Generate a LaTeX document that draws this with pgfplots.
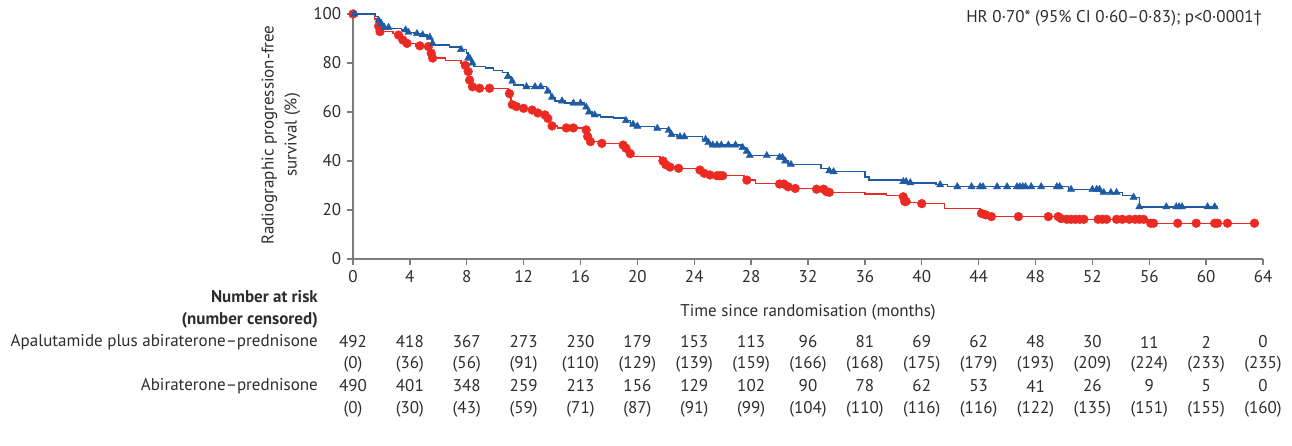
\documentclass[border=0pt]{standalone}
\usepackage{fontspec}
\setmainfont{PT Sans}
\usepackage{pgfplots}
\pgfplotsset{compat=1.18}
\definecolor{kmblue}{RGB}{31,91,165}
\definecolor{kmred}{RGB}{236,42,36}
\definecolor{axgray}{RGB}{125,125,125}
\definecolor{txt}{RGB}{45,45,45}
\newcommand\fs{\fontsize{17}{21}\selectfont}

\pgfplotstableread{
t S
0 100
1.6 99
1.8 97.5
2.0 96
2.2 94.5
2.6 94
3.4 93.5
3.8 92.5
4.3 92
4.7 91.5
5.2 90.5
5.5 88
5.7 87.3
6.8 86.5
7.6 85.5
8.0 84
8.1 82
8.3 80
8.5 78.5
9.3 78
9.9 77
10.5 76
10.9 74.5
11.1 72.5
11.3 71
12.0 70.3
13.6 68.5
13.9 66
14.2 64.5
14.9 63.6
16.3 62
16.5 60
16.8 58.8
17.4 58
18.3 57.5
19.1 56.5
19.5 55
19.9 54.2
21.2 53.3
22.1 52.5
22.3 50.8
22.8 49.9
24.6 48.8
24.9 47.5
25.1 46.5
27.3 45.5
27.6 44
27.9 42.2
30.0 41.5
30.3 40
30.6 38.6
32.9 37
33.4 36
33.7 35.6
36.0 33.5
36.3 32.2
38.6 31.6
39.1 31.1
41.0 30.3
41.8 29.5
50.3 28.4
52.6 27.1
54.1 25.9
54.9 25.2
55.3 21.3
60.8 21.3
}\bluecurve

\pgfplotstableread{
t S
0 100
1.5 98
1.7 95
1.9 92.8
2.8 92
3.2 91.4
3.5 89.4
3.8 88
4.4 87
5.3 86.7
5.5 84
5.6 82
6.5 81
7.6 80
7.9 79
8.0 76.5
8.2 73
8.4 70.3
8.9 69.7
10.9 67.5
11.1 63
11.5 62.2
11.9 61.5
12.5 60.8
12.9 59.6
13.4 58.8
13.6 57.4
13.9 54.3
14.4 53.5
16.3 52.7
16.5 50
16.7 47.9
17.4 47.2
18.8 46.5
19.2 45.2
19.4 43
19.6 41.8
21.6 40
21.9 38.5
22.3 37.5
22.8 37
24.3 36.3
24.7 35
25.2 34.3
25.6 34
27.5 33
27.7 32.2
28.3 30.9
30.0 30.6
30.6 29.5
31.1 28.8
32.5 28.5
33.2 27.5
33.5 27.2
36.0 26.5
37.5 26
38.6 25.4
38.8 23.5
39.1 23
39.8 22.6
41.6 20.5
44.1 18.6
44.3 18
44.8 17.3
49.7 16.5
50.0 16.2
55.9 14.6
63.6 14.6
}\redcurve

\pgfplotstableread{
t S
0.1 100
1.8 97.5
2.0 96
2.2 94.5
2.5 94.5
3.7 93.5
3.9 92.5
4.5 92
4.9 91.5
5.4 90.5
5.6 88
7.6 85.5
8.1 82
8.2 82
8.4 80
10.9 74.5
11.2 72.5
12.2 70.3
12.8 70.3
13.2 70.3
13.7 68.5
14.0 66
14.7 64.5
15.5 63.6
16.0 63.6
16.4 62
16.6 60
17.0 58.8
19.2 56.5
19.7 55
20.0 54.2
21.4 53.3
22.2 52.5
22.4 50.8
23.0 49.9
23.3 49.9
24.8 48.8
25.0 47.5
25.3 46.5
25.6 46.5
25.9 46.5
26.4 46.5
26.9 46.5
27.4 45.5
27.7 44
27.9 42.2
29.1 42.2
30.0 41.5
30.2 41.5
30.4 40
30.8 38.6
33.5 36
33.8 35.6
38.7 31.6
38.9 31.6
39.2 31.1
41.3 30.3
42.5 29.5
43.5 29.5
44.1 29.5
44.3 29.5
45.3 29.5
46.0 29.5
46.7 29.5
46.9 29.5
47.1 29.5
47.3 29.5
47.7 29.5
48.4 29.5
49.5 29.5
49.7 29.5
50.5 28.4
52.0 28.4
52.3 28.4
52.5 28.4
52.8 27.1
53.3 27.1
53.7 27.1
54.9 25.2
55.3 21.3
57.2 21.3
57.9 21.3
58.1 21.3
58.3 21.3
60.1 21.3
60.6 21.3
}\bluecens

\pgfplotstableread{
t S
0 100
1.8 95
1.9 92.8
3.2 91.4
3.5 89.4
3.8 88
4.7 87
5.3 86.7
5.5 84
5.6 82
7.9 79
8.1 76.5
8.2 73
8.4 70.3
8.9 69.7
9.6 69.7
11.0 67.5
11.2 63
11.5 62.2
12.0 61.5
12.6 60.8
13.0 59.6
13.5 58.8
13.7 57.4
14.0 54.3
15.0 53.5
15.5 53.5
16.4 52.7
16.5 50
16.7 47.9
17.5 47.2
19.0 46.5
19.2 45.2
19.5 43
21.8 40
22.0 38.5
22.3 37.5
22.9 37
24.4 36.3
24.7 35
25.1 34.3
25.6 34
25.8 34
26.0 34
27.7 32.2
30.0 30.6
30.3 30.6
30.6 29.5
31.1 28.8
32.6 28.5
33.1 28.5
33.3 27.5
33.5 27.2
38.7 25.4
38.8 23.5
38.9 23.5
40.0 22.6
44.2 18.6
44.5 18
44.9 17.3
46.8 17.3
48.9 17.3
49.6 17.3
49.8 16.5
50.2 16.2
50.5 16.2
50.8 16.2
51.1 16.2
51.4 16.2
52.4 16.2
52.7 16.2
53.0 16.2
53.7 16.2
54.1 16.2
54.6 16.2
55.0 16.2
55.3 16.2
55.6 16.2
56.1 14.6
56.3 14.6
58.0 14.6
59.3 14.6
60.6 14.6
60.8 14.6
61.5 14.6
63.4 14.6
}\redcens

\begin{document}
\fs
\begin{tikzpicture}[x=1pt,y=1pt]
\useasboundingbox (0,0) rectangle (1292,445);
\begin{axis}[
  at={(353pt,186pt)}, anchor=south west,
  scale only axis, width=910pt, height=245pt,
  xmin=0, xmax=64, ymin=0, ymax=100,
  axis lines=left,
  axis line style={-, draw=axgray, line width=1.6pt},
  xtick={0,4,...,64}, ytick={0,20,...,100},
  tick align=outside, major tick length=6pt,
  tick style={draw=axgray, line width=1.4pt},
  tick label style={font=\fs, text=txt},
  /pgf/number format/assume math mode=true,
  clip=false,
]
\addplot[const plot, draw=kmred, line width=1.4pt, no marks] table {\redcurve};
\addplot[only marks, mark=*, mark size=4.4pt, draw=kmred, fill=kmred] table {\redcens};
\addplot[const plot, draw=kmblue, line width=1.4pt, no marks] table {\bluecurve};
\addplot[only marks, mark=triangle*, mark size=4.2pt, draw=kmblue, fill=kmblue] table {\bluecens};
\end{axis}
\node[rotate=90, align=center, text=txt, font=\fs, inner sep=0pt] at (281, 310) {Radiographic progression-free\\[2pt]survival (\%)};
\node[anchor=east, text=txt, inner sep=0pt] at (1262, 427) {HR 0·70* (95\% CI 0·60–0·83); p<0·0001†};
\node[text=txt, inner sep=0pt] at (808, 133) {Time since randomisation (months)};
\node[anchor=east, text=txt, inner sep=0pt, font=\fs\bfseries] at (318, 148) {Number at risk};
\node[anchor=east, text=txt, inner sep=0pt, font=\fs\bfseries] at (318, 125) {(number censored)};
\node[anchor=east, text=txt, inner sep=0pt] at (318, 103) {Apalutamide plus abiraterone–prednisone};
\node[anchor=east, text=txt, inner sep=0pt] at (318, 59) {Abiraterone–prednisone};
\foreach \v [count=\i from 0] in {492,418,367,273,230,179,153,113,96,81,69,62,48,30,11,2,0}
  \node[text=txt, inner sep=0pt] at ({353+56.875*\i}, 103) {\v};
\foreach \v [count=\i from 0] in {0,36,56,91,110,129,139,159,166,168,175,179,193,209,224,233,235}
  \node[text=txt, inner sep=0pt] at ({353+56.875*\i}, 81) {(\v)};
\foreach \v [count=\i from 0] in {490,401,348,259,213,156,129,102,90,78,62,53,41,26,9,5,0}
  \node[text=txt, inner sep=0pt] at ({353+56.875*\i}, 59) {\v};
\foreach \v [count=\i from 0] in {0,30,43,59,71,87,91,99,104,110,116,116,122,135,151,155,160}
  \node[text=txt, inner sep=0pt] at ({353+56.875*\i}, 36) {(\v)};
\end{tikzpicture}
\end{document}
